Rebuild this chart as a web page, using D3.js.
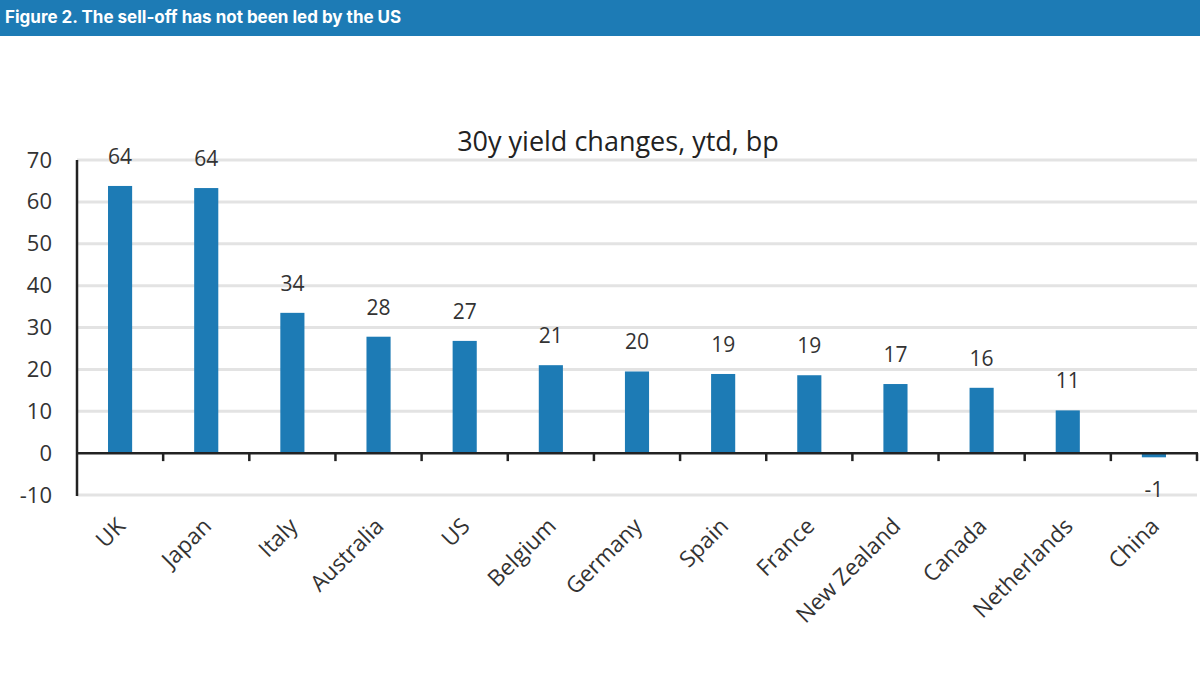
<!DOCTYPE html>
<html><head><meta charset="utf-8">
<script src="https://cdn.jsdelivr.net/npm/d3@7"></script>
<style>body{margin:0;background:#fff}svg{display:block}</style>
</head><body>
<svg id="c" width="1200" height="677"></svg>
<script>
const categories = ["UK","Japan","Italy","Australia","US","Belgium","Germany","Spain","France","New Zealand","Canada","Netherlands","China"];
const values = [63.8,63.3,33.5,27.8,26.8,21.0,19.5,18.9,18.6,16.5,15.6,10.2,-1.0];
const valueLabels = ["64","64","34","28","27","21","20","19","19","17","16","11","-1"];
const yTicks = [-10,0,10,20,30,40,50,60,70];
const titleText = "Figure 2. The sell-off has not been led by the US";
const chartTitle = "30y yield changes, ytd, bp";

const svg = d3.select("#c");
const blue = "#1d7bb5";
const font = "'Open Sans', 'Noto Sans', sans-serif";

// header
svg.append("rect").attr("x",0).attr("y",0).attr("width",1200).attr("height",36).attr("fill",blue);
svg.append("text").attr("x",5).attr("y",23).text(titleText)
  .attr("fill","#fff").attr("font-family","Inter, Lato, sans-serif").attr("font-weight",700).attr("font-size",17);

const left = 77, right = 1197;
const x = d3.scaleBand().domain(categories).range([left,right]).paddingInner(0.72).paddingOuter(0.36);
const y = d3.scaleLinear().domain([-10,70]).range([495,160]);

// gridlines
svg.append("g").selectAll("line").data(yTicks.filter(d=>d!==0)).join("line")
  .attr("x1",left).attr("x2",right).attr("y1",d=>y(d)).attr("y2",d=>y(d))
  .attr("stroke","#e3e3e3").attr("stroke-width",3);

// bars
svg.append("g").selectAll("rect").data(values).join("rect")
  .attr("x",(d,i)=>x(categories[i])).attr("width",x.bandwidth())
  .attr("y",d=>y(Math.max(0,d))).attr("height",d=>Math.abs(y(d)-y(0)))
  .attr("fill",blue);

// y axis
const yAxis = d3.axisLeft(y).tickValues(yTicks).tickSize(0).tickPadding(0).tickFormat(d=>String(d));
const gy = svg.append("g").attr("transform",`translate(${left},0)`).call(yAxis);
gy.select(".domain").remove();
gy.selectAll("text").attr("x",-25).attr("font-size",22).attr("font-family",font).attr("fill","#333");
svg.append("line").attr("x1",left).attr("x2",left).attr("y1",y(70)).attr("y2",y(-10)+1)
  .attr("stroke","#222").attr("stroke-width",2.5);

// x axis at zero
const step = x.step();
const boundaries = d3.range(1, categories.length+1).map(i=>left + i*step);
svg.append("line").attr("x1",left).attr("x2",right+1).attr("y1",y(0)).attr("y2",y(0))
  .attr("stroke","#222").attr("stroke-width",2.5);
svg.append("g").selectAll("line").data(boundaries).join("line")
  .attr("x1",d=>d).attr("x2",d=>d).attr("y1",y(0)).attr("y2",y(0)+8)
  .attr("stroke","#222").attr("stroke-width",2.5);

// value labels
svg.append("g").selectAll("text").data(values).join("text")
  .attr("x",(d,i)=>x(categories[i])+x.bandwidth()/2)
  .attr("y",d=> d>=0 ? y(d)-22 : y(d)+40)
  .attr("text-anchor","middle").attr("font-size",21).attr("font-family",font).attr("fill","#333")
  .text((d,i)=>valueLabels[i]);

// category labels
svg.append("g").selectAll("text").data(categories).join("text")
  .attr("transform",d=>`translate(${x(d)+x.bandwidth()/2+1},${522}) rotate(-45)`)
  .attr("text-anchor","end").attr("font-size",22.5).attr("font-family",font).attr("fill","#333")
  .attr("dy","0.35em")
  .text(d=>d);

// chart title
svg.append("text").attr("x",618).attr("y",151).attr("text-anchor","middle")
  .attr("font-size",27).attr("font-family",font).attr("fill","#222").text(chartTitle);
</script>
</body></html>
